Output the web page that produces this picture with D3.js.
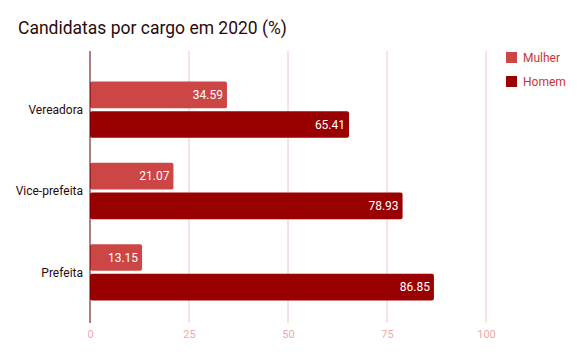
<!DOCTYPE html>
<html><head><meta charset="utf-8">
<script src="https://cdn.jsdelivr.net/npm/d3@7/dist/d3.min.js"></script>
<style>body{margin:0;background:#fff;font-family:Roboto,sans-serif}</style>
</head><body><svg id="c" width="581" height="359"></svg>
<script>
const categories = ["Vereadora", "Vice-prefeita", "Prefeita"];
const seriesNames = ["Mulher", "Homem"];
const mulher = [34.59, 21.07, 13.15];
const homem = [65.41, 78.93, 86.85];
const ticks = [0, 25, 50, 75, 100];
const colors = ["#cc4646", "#990000"];

const svg = d3.select("#c");
const x = d3.scaleLinear().domain([0, 100]).range([90, 486]);
const y = d3.scaleBand().domain(categories).range([69, 313]).paddingInner(0).paddingOuter(0);
const inner = d3.scaleBand().domain(seriesNames).range([0, y.bandwidth()]).paddingOuter(0.42).paddingInner(0.1);

svg.append("text").attr("x", 18).attr("y", 34).text("Candidatas por cargo em 2020 (%)")
  .attr("font-size", 17.5).attr("fill", "#2b0a0a");

svg.selectAll(".grid").data(ticks.slice(1)).enter().append("line")
  .attr("x1", d => x(d)).attr("x2", d => x(d)).attr("y1", 51).attr("y2", 323)
  .attr("stroke", "#f2c4c4").attr("stroke-width", 1);

const xAxis = svg.append("g").attr("transform", "translate(0,323)")
  .call(d3.axisBottom(x).tickValues(ticks).tickSize(0).tickPadding(7));
xAxis.select(".domain").remove();
xAxis.selectAll("text").attr("fill", "#f0a8a8").attr("font-size", 11).attr("font-family", "Roboto");

const data = categories.map((c, i) => ({cat: c, vals: [mulher[i], homem[i]]}));
const g = svg.selectAll(".grp").data(data).enter().append("g")
  .attr("transform", d => `translate(0,${y(d.cat)})`);
g.selectAll("rect").data(d => d.vals.map((v, j) => ({v, s: seriesNames[j], j}))).enter().append("rect")
  .attr("x", x(0)).attr("y", d => inner(d.s)).attr("height", inner.bandwidth())
  .attr("width", d => x(d.v) - x(0)).attr("rx", 2).attr("fill", d => colors[d.j]);
g.selectAll(".lbl").data(d => d.vals.map((v, j) => ({v, s: seriesNames[j], j}))).enter().append("text")
  .attr("x", d => x(d.v) - 4).attr("y", d => inner(d.s) + inner.bandwidth() / 2)
  .attr("dy", "0.35em").attr("text-anchor", "end").attr("fill", "#fff").attr("font-size", 12)
  .text(d => d.v.toFixed(2));

svg.selectAll(".cat").data(categories).enter().append("text")
  .attr("x", 83).attr("y", d => y(d) + y.bandwidth() / 2).attr("dy", "0.35em")
  .attr("text-anchor", "end").attr("font-size", 12).attr("fill", "#2b0a0a").text(d => d);

svg.append("line").attr("x1", x(0)).attr("x2", x(0)).attr("y1", 51).attr("y2", 323)
  .attr("stroke", "#660000").attr("stroke-width", 1);

const leg = svg.selectAll(".leg").data(seriesNames).enter().append("g")
  .attr("transform", (d, i) => `translate(506,${52 + i * 24})`);
leg.append("rect").attr("width", 11).attr("height", 11).attr("fill", (d, i) => colors[i]);
leg.append("text").attr("x", 17).attr("y", 5.5).attr("dy", "0.35em").attr("font-size", 12)
  .attr("fill", "#cc3333").text(d => d);
</script></body></html>
